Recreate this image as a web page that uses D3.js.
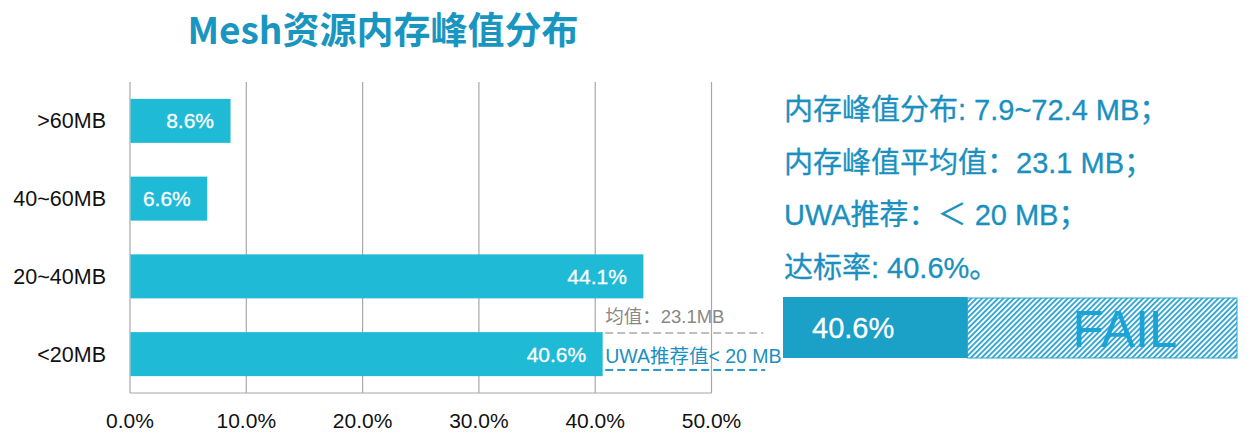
<!DOCTYPE html>
<html>
<head>
<meta charset="utf-8">
<script src="https://cdn.jsdelivr.net/npm/d3@7/dist/d3.min.js"></script>
<style>
  html, body { margin: 0; padding: 0; background: #fff; }
  svg { display: block; }
</style>
</head>
<body>
<svg id="chart" width="1249" height="442"></svg>
<script>
// ---------- data ----------
const title = "Mesh资源内存峰值分布";
const categories = [">60MB", "40~60MB", "20~40MB", "<20MB"];
const values = [8.6, 6.6, 44.1, 40.6];
const xTicks = [0, 10, 20, 30, 40, 50];
const meanLabel = "均值：23.1MB";
const recommendLabel = "UWA推荐值< 20 MB";
const summaryLines = [
  "内存峰值分布: 7.9~72.4 MB；",
  "内存峰值平均值：23.1 MB；",
  "UWA推荐：＜ 20 MB；",
  "达标率: 40.6%。"
];
const passRate = 40.6;
const failLabel = "FAIL";

// ---------- setup ----------
const svg = d3.select("#chart");
const latin = "'Liberation Sans', Arial, 'Noto Sans CJK SC', sans-serif";
const blue = "#1a90bf";
const barColor = "#1fbad6";

const x = d3.scaleLinear().domain([0, 50]).range([130, 711.5]);
const y = d3.scaleBand().domain(categories).range([82, 393])
  .paddingInner(0.434).paddingOuter(0.217);

// title
svg.append("text")
  .attr("x", 383).attr("y", 44)
  .attr("text-anchor", "middle")
  .attr("font-family", "'Noto Sans CJK SC', sans-serif")
  .attr("font-weight", "bold")
  .attr("font-size", 37)
  .attr("fill", "#1996c0")
  .text(title);

// grid lines
svg.append("g").selectAll("line").data(xTicks).join("line")
  .attr("x1", d => x(d)).attr("x2", d => x(d))
  .attr("y1", 82).attr("y2", 393)
  .attr("stroke", "#a8a8a8").attr("stroke-width", 1.2);

// bottom axis line
svg.append("line")
  .attr("x1", x(0)).attr("x2", x(50))
  .attr("y1", 393).attr("y2", 393)
  .attr("stroke", "#a8a8a8").attr("stroke-width", 1.2);

// x tick labels
svg.append("g").selectAll("text").data(xTicks).join("text")
  .attr("x", d => x(d)).attr("y", 428)
  .attr("text-anchor", "middle")
  .attr("font-family", latin).attr("font-size", 21)
  .attr("fill", "#111")
  .text(d => d.toFixed(1) + "%");

// y category labels
svg.append("g").selectAll("text").data(categories).join("text")
  .attr("x", 106).attr("y", d => y(d) + y.bandwidth() / 2 + 7.5)
  .attr("text-anchor", "end")
  .attr("font-family", latin).attr("font-size", 21.5)
  .attr("fill", "#111")
  .text(d => d);

// bars
const data = categories.map((c, i) => ({ c, v: values[i] }));
svg.append("g").selectAll("rect").data(data).join("rect")
  .attr("x", x(0) + 0.5)
  .attr("y", d => y(d.c))
  .attr("width", d => x(d.v) - x(0))
  .attr("height", y.bandwidth())
  .attr("fill", barColor);

// bar value labels
svg.append("g").selectAll("text").data(data).join("text")
  .attr("x", d => x(d.v) - 16)
  .attr("y", d => y(d.c) + y.bandwidth() / 2 + 7.5)
  .attr("text-anchor", "end")
  .attr("font-family", latin).attr("font-size", 21)
  .attr("fill", "#fff")
  .attr("stroke", "#fff").attr("stroke-width", 0.3)
  .text(d => d.v.toFixed(1) + "%");

// annotations next to the <20MB bar
const lastCat = categories[3];
const annX = x(values[3]) + 3;
const bandTop = y(lastCat);
svg.append("text")
  .attr("x", annX).attr("y", bandTop - 9)
  .attr("font-family", latin).attr("font-size", 18.5)
  .attr("fill", "#888")
  .text(meanLabel);
svg.append("line")
  .attr("x1", annX).attr("x2", annX + 158)
  .attr("y1", bandTop + 1).attr("y2", bandTop + 1)
  .attr("stroke", "#aaa").attr("stroke-width", 1.5)
  .attr("stroke-dasharray", "8,4");
svg.append("text")
  .attr("x", annX).attr("y", bandTop + 31)
  .attr("font-family", latin).attr("font-size", 19.5)
  .attr("fill", blue)
  .text(recommendLabel);
svg.append("line")
  .attr("x1", annX).attr("x2", annX + 160)
  .attr("y1", bandTop + 38).attr("y2", bandTop + 38)
  .attr("stroke", "#2a9ccc").attr("stroke-width", 2)
  .attr("stroke-dasharray", "8,4");

// summary text
svg.append("g").selectAll("text").data(summaryLines).join("text")
  .attr("x", 784).attr("y", (d, i) => 120 + i * 52.5)
  .attr("font-family", latin).attr("font-size", 29)
  .attr("fill", blue)
  .attr("stroke", blue).attr("stroke-width", 0.3)
  .text(d => d);

// gauge
const defs = svg.append("defs");
const pat = defs.append("pattern")
  .attr("id", "hatch").attr("patternUnits", "userSpaceOnUse")
  .attr("width", 3.8).attr("height", 3.8)
  .attr("patternTransform", "rotate(45)");
pat.append("rect").attr("width", 1.8).attr("height", 3.8).attr("fill", "#2aa3d0");

const g = d3.scaleLinear().domain([0, 100]).range([783, 1237]);
const gTop = 297, gH = 61;
svg.append("rect")
  .attr("x", g(passRate)).attr("y", gTop + 1)
  .attr("width", g(100) - g(passRate)).attr("height", gH - 1)
  .attr("fill", "url(#hatch)")
  .attr("stroke", "#2aa3d0").attr("stroke-width", 1);
svg.append("rect")
  .attr("x", g(0)).attr("y", gTop)
  .attr("width", g(passRate) - g(0)).attr("height", gH)
  .attr("fill", "#1ba0c8");
svg.append("text")
  .attr("x", 812).attr("y", gTop + 41)
  .attr("font-family", latin).attr("font-size", 29)
  .attr("fill", "#fff")
  .attr("stroke", "#fff").attr("stroke-width", 0.3)
  .text(passRate.toFixed(1) + "%");
svg.append("text")
  .attr("x", 1125).attr("y", gTop + 50)
  .attr("text-anchor", "middle")
  .attr("font-family", latin).attr("font-size", 51)
  .attr("fill", "#1aa3d6")
  .text(failLabel);
</script>
</body>
</html>
